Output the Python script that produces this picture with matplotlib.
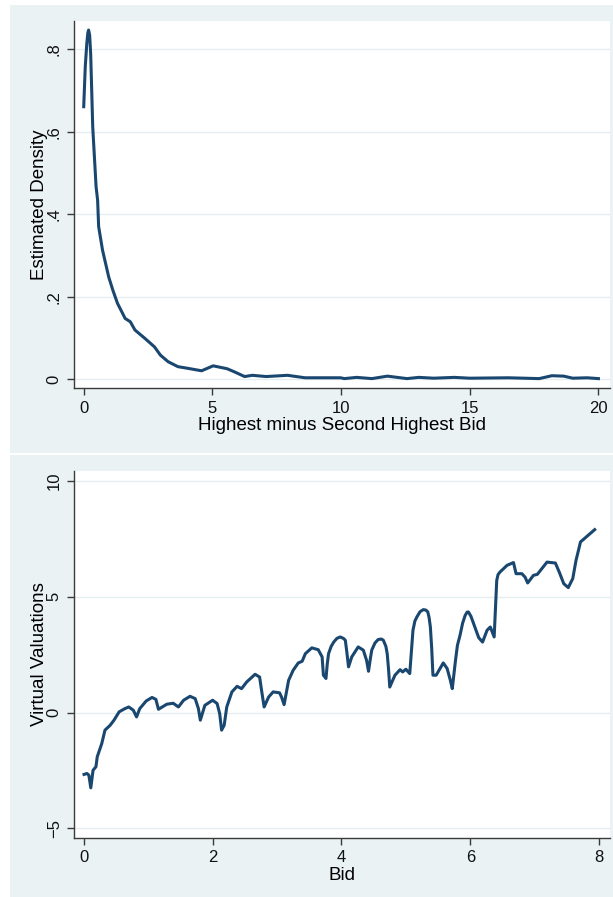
import numpy as np
import matplotlib.pyplot as plt
from matplotlib.patches import Rectangle

plt.rcParams['font.family'] = ['Liberation Sans', 'DejaVu Sans']

## top panel: kernel density of (highest - second highest bid)
gap_x = [0.0, 0.06, 0.12, 0.16, 0.19, 0.23, 0.27, 0.35, 0.48, 0.54, 0.58, 0.73, 0.97, 1.13,
         1.31, 1.61, 1.81, 1.99, 2.37, 2.75, 2.98, 3.28, 3.66, 4.04, 4.58, 5.03,
         5.57, 5.87, 6.25, 6.55, 7.09, 7.92, 8.6, 9.98, 10.13, 10.6, 11.2, 11.8,
         12.56, 13.02, 13.6, 14.4, 15.0, 16.5, 17.7, 18.19, 18.65, 19.0, 19.56, 20.0]
gap_dens = [0.661, 0.758, 0.815, 0.840, 0.847, 0.835, 0.79, 0.612, 0.467, 0.434, 0.37, 0.313,
            0.248, 0.216, 0.184, 0.147, 0.139, 0.119, 0.099, 0.078, 0.058, 0.042, 0.030, 0.026,
            0.020, 0.032, 0.025, 0.017, 0.006, 0.009, 0.006, 0.009, 0.003, 0.003, 0.001, 0.004,
            0.001, 0.007, 0.001, 0.004, 0.002, 0.004, 0.002, 0.003, 0.001, 0.008, 0.007, 0.002,
            0.003, 0.001]
top_xticks = [0, 5, 10, 15, 20]
top_yticks = [0, 0.2, 0.4, 0.6, 0.8]
top_ylabels = ['0', '.2', '.4', '.6', '.8']

## bottom panel: virtual valuations against bid
bid = [0.005, 0.05, 0.08, 0.11, 0.145, 0.19, 0.21, 0.28, 0.33, 0.41, 0.47, 0.55,
       0.64, 0.70, 0.77, 0.82, 0.87, 0.97, 1.06, 1.12, 1.16, 1.29, 1.39, 1.47,
       1.55, 1.65, 1.73, 1.78, 1.81, 1.88, 2.00, 2.07, 2.11, 2.14, 2.18, 2.22,
       2.30, 2.38, 2.45, 2.53, 2.66, 2.73, 2.76, 2.80, 2.87, 2.94, 3.04, 3.07,
       3.11, 3.18, 3.25, 3.33, 3.39, 3.44, 3.54, 3.64, 3.70, 3.72, 3.76, 3.78,
       3.80, 3.84, 3.88, 3.93, 3.98, 4.03, 4.06, 4.08, 4.11, 4.16, 4.26, 4.34,
       4.39, 4.42, 4.45, 4.47, 4.52, 4.57, 4.62, 4.65, 4.69, 4.71, 4.73, 4.75,
       4.83, 4.91, 4.95, 5.00, 5.06, 5.11, 5.14, 5.17, 5.22, 5.27, 5.31, 5.34,
       5.36, 5.38, 5.40, 5.42, 5.47, 5.58, 5.64, 5.69, 5.72, 5.77, 5.80, 5.84,
       5.88, 5.92, 5.95, 5.97, 6.01, 6.05, 6.13, 6.19, 6.26, 6.31, 6.37, 6.39,
       6.41, 6.43, 6.46, 6.57, 6.67, 6.71, 6.80, 6.85, 6.89, 6.98, 7.04, 7.19,
       7.32, 7.38, 7.45, 7.52, 7.59, 7.64, 7.71, 7.81, 7.93]
vv = [-2.67, -2.63, -2.7, -3.25, -2.49, -2.34, -1.91, -1.34, -0.76, -0.55, -0.33, 0.03,
      0.17, 0.24, 0.10, -0.19, 0.17, 0.50, 0.65, 0.57, 0.14, 0.36, 0.40, 0.24,
      0.53, 0.70, 0.60, 0.17, -0.33, 0.31, 0.53, 0.39, -0.04, -0.76, -0.55, 0.24,
      0.89, 1.13, 1.03, 1.32, 1.65, 1.53, 0.96, 0.24, 0.67, 0.89, 0.85, 0.67,
      0.34, 1.39, 1.82, 2.14, 2.21, 2.54, 2.79, 2.71, 2.40, 1.61, 1.47, 2.10,
      2.54, 2.85, 3.04, 3.20, 3.26, 3.20, 3.12, 2.69, 1.97, 2.40, 2.83, 2.69,
      2.25, 1.78, 2.35, 2.69, 3.00, 3.15, 3.17, 3.12, 2.85, 2.54, 1.90, 1.10,
      1.61, 1.85, 1.75, 1.87, 1.68, 3.55, 3.95, 4.12, 4.35, 4.44, 4.42, 4.34,
      4.10, 3.69, 2.80, 1.61, 1.61, 2.14, 1.90, 1.39, 1.03, 2.25, 2.90, 3.33,
      3.85, 4.19, 4.33, 4.34, 4.15, 3.84, 3.23, 3.04, 3.55, 3.69, 3.26, 4.50,
      5.70, 5.95, 6.06, 6.35, 6.47, 5.99, 5.99, 5.84, 5.59, 5.92, 5.96, 6.49,
      6.45, 6.06, 5.56, 5.39, 5.78, 6.56, 7.36, 7.60, 7.89]
bot_xticks = [0, 2, 4, 6, 8]
bot_yticks = [-5, 0, 5, 10]
bot_ylabels = ['\u22125', '0', '5', '10']

bg = '#EAF2F3'
line_col = '#1A476F'
grid_col = '#E4EEF0'
axis_col = '#3a3a3a'

fig = plt.figure(figsize=(6.13, 8.97), dpi=100)
W, H = 613.0, 897.0

## panel backgrounds (in pixels -> figure fraction)
for (x0, y0, x1, y1) in [(10, 5, 613, 453), (10, 455, 613, 897)]:
    fig.patches.append(Rectangle((x0 / W, 1 - y1 / H), (x1 - x0) / W, (y1 - y0) / H,
                                 transform=fig.transFigure, facecolor=bg,
                                 edgecolor='none', zorder=-5))


def style_axes(ax, xticks, yticks, ylabels, xlabel, ylabel):
    for s in ['top', 'right']:
        ax.spines[s].set_visible(False)
    for s in ['left', 'bottom']:
        ax.spines[s].set_color(axis_col)
        ax.spines[s].set_linewidth(1.0)
    ax.set_xticks(xticks)
    ax.set_xticklabels([str(t) for t in xticks])
    ax.set_yticks(yticks)
    ax.set_yticklabels(ylabels, rotation=90, va='center')
    ax.tick_params(length=5, width=1, color=axis_col, labelsize=12, pad=4,
                   labelcolor='#111111')
    ax.yaxis.grid(True, color=grid_col, linewidth=1.0)
    ax.set_axisbelow(True)
    ax.set_xlabel(xlabel, fontsize=13.5, labelpad=1)
    ax.set_ylabel(ylabel, fontsize=13.5, labelpad=-1)


ax1 = fig.add_axes([74.3 / W, 1 - 388 / H, (609.5 - 74.3) / W, (388 - 21) / H])
ax1.plot(gap_x, gap_dens, color=line_col, linewidth=2.2, solid_joinstyle='round')
ax1.set_xlim(-0.366, 20.43)
ax1.set_ylim(-0.0218, 0.869)
style_axes(ax1, top_xticks, top_yticks, top_ylabels,
           'Highest minus Second Highest Bid', 'Estimated Density')

ax2 = fig.add_axes([74.3 / W, 1 - 837.7 / H, (609.5 - 74.3) / W, (837.7 - 471) / H])
ax2.plot(bid, vv, color=line_col, linewidth=2.2, solid_joinstyle='round')
ax2.set_xlim(-0.146, 8.16)
ax2.set_ylim(-5.4, 10.42)
style_axes(ax2, bot_xticks, bot_yticks, bot_ylabels, 'Bid', 'Virtual Valuations')

fig.savefig('out.png', dpi=100, facecolor='white')
